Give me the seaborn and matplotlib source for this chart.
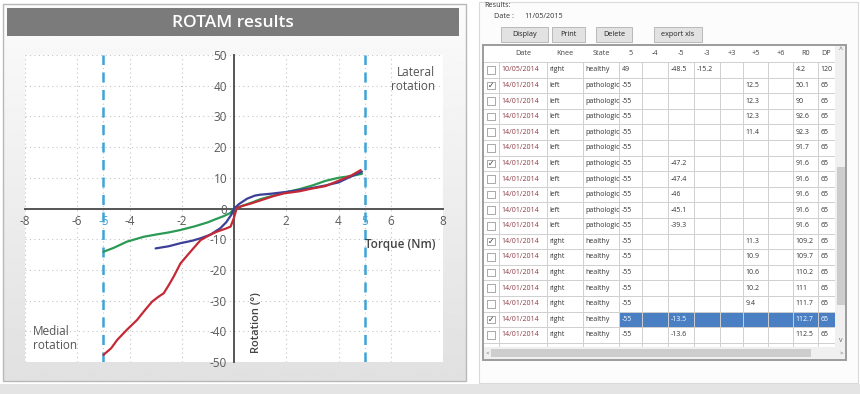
import numpy as np
import pandas as pd
import matplotlib
matplotlib.use("Agg")
import matplotlib.pyplot as plt
import seaborn as sns
from matplotlib.patches import Rectangle

# --- chart data ---
red_torque = [-5.0, -4.7, -4.47, -4.1, -3.71, -3.4, -3.13, -2.9, -2.69, -2.5, -2.31, -2.05,
              -1.67, -1.28, -0.9, -0.64, -0.3, -0.13, 0.0, 0.1, 0.3, 0.6, 1.0, 1.5, 1.9,
              2.5, 2.93, 3.5, 4.08, 4.5, 4.85]
red_rotation = [-47.7, -45.5, -42.8, -39.5, -36.3, -33.0, -30.3, -28.8, -27.6, -25.0, -22.2, -17.9,
                -14.1, -10.3, -8.5, -7.5, -6.5, -5.9, -3.0, 0.0, 0.8, 1.5, 2.6, 4.0, 4.9,
                5.6, 6.4, 7.3, 9.3, 10.8, 12.5]
green_torque = [-5.0, -4.6, -4.1, -3.45, -3.0, -2.5, -2.05, -1.5, -1.0, -0.77, -0.4, -0.15, 0.0,
                0.3, 0.7, 1.0, 1.5, 2.0, 2.5, 3.0, 3.5, 4.0, 4.5, 4.9]
green_rotation = [-14.1, -12.8, -10.8, -9.2, -8.5, -7.8, -7.0, -5.8, -4.5, -3.7, -2.5, -1.5, 0.0,
                  0.8, 2.0, 3.0, 4.2, 5.3, 6.3, 7.5, 9.0, 10.0, 10.6, 11.3]
navy_torque = [-3.0, -2.5, -2.05, -1.6, -1.28, -0.9, -0.52, -0.3, -0.1, 0.0, 0.2, 0.5, 0.8, 1.0,
               1.4, 2.0, 2.5, 3.0, 3.5, 4.0, 4.5, 4.9]
navy_rotation = [-13.0, -12.3, -11.3, -10.5, -9.7, -8.5, -6.4, -4.5, -2.0, 0.0, 1.5, 3.2, 4.2, 4.5,
                 4.8, 5.4, 6.0, 6.7, 7.5, 8.5, 10.5, 12.0]

x_ticks = [-8, -6, -5, -4, -2, 2, 4, 5, 6, 8]
y_ticks = [-50, -40, -30, -20, -10, 0, 10, 20, 30, 40, 50]
limit_torque = [-5, 5]

# --- table data ---
header_labels = ["", "Date", "Knee", "State", "5", "-4", "-5", "-3", "+3", "+5", "+6", "R0", "DP"]
table_dates = ["10/05/2014"] + ["14/01/2014"] * 17
table_knee = ["right"] + ["left"] * 10 + ["right"] * 7
table_state = ["healthy"] + ["pathologic"] * 10 + ["healthy"] * 7
col_a = ["49"] + ["-55"] * 17
col_b = [""] * 18
col_c = ["-48.5", "", "", "", "", "", "-47.2", "-47.4", "-46", "-45.1", "-39.3",
         "", "", "", "", "", "-13.5", "-13.6"]
col_d = ["-15.2"] + [""] * 17
col_e = [""] * 18
col_f = ["", "12.5", "12.3", "12.3", "11.4", "", "", "", "", "", "",
         "11.3", "10.9", "10.6", "10.2", "9.4", "", ""]
col_g = [""] * 18
col_r0 = ["4.2", "50.1", "90", "92.6", "92.3", "91.7", "91.6", "91.6", "91.6", "91.6", "91.6",
          "109.2", "109.7", "110.2", "111", "111.7", "112.7", "112.5"]
col_dp = ["120"] + ["65"] * 17
checked_rows = [1, 6, 11, 16]
selected_row = 16

sns.set_style("white")
plt.rcParams['font.family'] = ['Open Sans', 'DejaVu Sans']

W, H = 860, 394
fig = plt.figure(figsize=(W / 100, H / 100), dpi=100)

# pixel-space overlay for the panels and the table
bg = fig.add_axes([0, 0, 1, 1])
bg.set_xlim(0, W)
bg.set_ylim(H, 0)
bg.axis('off')

# left panel: gradient background, frame, title bar
grad = np.linspace(0.985, 0.88, 200).reshape(-1, 1)
bg.imshow(grad, cmap='gray', vmin=0, vmax=1, extent=(3, 466, 381, 4), aspect='auto', zorder=0)
bg.add_patch(Rectangle((3, 4), 463, 377, fill=False, ec='#b8b8b8', lw=1.0, zorder=1))
bg.add_patch(Rectangle((0, 384), W, 10, fc='#e4e4e4', ec='none', zorder=1))
bg.add_patch(Rectangle((7, 8), 452, 28, fc='#7b7b7b', ec='none', zorder=1))
bg.text(233, 22.5, "ROTAM results", color='white', fontsize=12.5, ha='center', va='center',
        fontweight='semibold', zorder=2)

# right panel
bg.add_patch(Rectangle((479, 2), 379, 381, fc='#fcfcfc', ec='#dadada', lw=0.8, zorder=1))
bg.text(484, 5, "Results:", fontsize=5.2, color='#333333', va='center', zorder=2)
bg.text(494, 16, "Date :", fontsize=5.2, color='#333333', va='center', zorder=2)
bg.text(524, 16, "11/05/2015", fontsize=5.2, color='#333333', va='center', zorder=2)
buttons = [("Display", 501, 47), ("Print", 552, 33), ("Delete", 596, 36), ("export xls", 654, 48)]
for label, bx, bw in buttons:
    bg.add_patch(Rectangle((bx, 27), bw, 15, fc='#e2e2e2', ec='#b0b0b0', lw=0.6, zorder=2))
    bg.text(bx + bw / 2, 34.5, label, fontsize=5.2, color='#222222', ha='center', va='center', zorder=3)

col_edges = [483, 499, 547, 583, 619, 642, 668, 694, 720, 743, 768, 793, 818, 835]
head_top, head_bot, row_h = 45, 62, 15.6
n_rows = len(table_dates)
columns = [table_dates, table_knee, table_state, col_a, col_b, col_c, col_d, col_e,
           col_f, col_g, col_r0, col_dp]

bg.add_patch(Rectangle((483, head_top), 363, 315, fc='white', ec='none', zorder=2))
# selected row highlight
sy = head_bot + selected_row * row_h
bg.add_patch(Rectangle((col_edges[4], sy), col_edges[-1] - col_edges[4], row_h,
                       fc='#4a7fc4', ec='none', zorder=3))
# grid
for i in range(n_rows + 2):
    y = head_bot + i * row_h
    if y < 348:
        bg.plot([483, 835], [y, y], color='#cfcfcf', lw=0.7, zorder=3)
for x in col_edges[1:-1]:
    bg.plot([x, x], [head_bot, 347], color='#cfcfcf', lw=0.7, zorder=3)
# header labels
for j, lab in enumerate(header_labels):
    cx = (col_edges[j] + col_edges[j + 1]) / 2
    bg.text(cx, (head_top + head_bot) / 2, lab, fontsize=5.2, color='#444444',
            ha='center', va='center', zorder=4)
# cells
for i in range(n_rows):
    cy = head_bot + i * row_h + row_h / 2
    bg.add_patch(Rectangle((487, cy - 3.8), 7.6, 7.6, fc='white', ec='#9a9a9a', lw=0.6, zorder=4))
    if i in checked_rows:
        bg.text(490.8, cy, "\u2713", fontsize=5.5, color='#333333', ha='center', va='center',
                family='DejaVu Sans', zorder=5)
    for j, col in enumerate(columns):
        val = col[i]
        if not val:
            continue
        color = '#333333'
        if j == 0:
            color = '#8a3b45'
        if i == selected_row and j >= 3:
            color = 'white'
        bg.text(col_edges[j + 1] + 2.5, cy, val, fontsize=5.0, color=color,
                ha='left', va='center', zorder=5)
# scroll bars
bg.add_patch(Rectangle((835, head_top), 11, 302, fc='#f0f0f0', ec='none', zorder=3))
bg.add_patch(Rectangle((836.5, 167), 8, 138, fc='#cdcdcd', ec='none', zorder=4))
bg.text(840.5, 50, "^", fontsize=5, color='#666666', ha='center', va='center', zorder=5)
bg.text(840.5, 340, "v", fontsize=5, color='#666666', ha='center', va='center', zorder=5)
bg.add_patch(Rectangle((483, 347), 363, 12, fc='#f0f0f0', ec='none', zorder=3))
bg.add_patch(Rectangle((491, 349), 320, 8, fc='#cdcdcd', ec='none', zorder=4))
bg.text(487, 353, "<", fontsize=4.5, color='#666666', ha='center', va='center', zorder=5)
bg.text(841, 353, ">", fontsize=4.5, color='#666666', ha='center', va='center', zorder=5)
bg.add_patch(Rectangle((483, head_top), 363, 315, fill=False, ec='#9c9c9c', lw=1.4, zorder=6))

# --- the ROTAM chart ---
ax = fig.add_axes([25 / W, 1 - 362 / H, 418 / W, 307 / H])
ax.set_zorder(2)
ax.set_facecolor('white')

curves = pd.concat([
    pd.DataFrame({'torque': green_torque, 'rotation': green_rotation, 'curve': 'green'}),
    pd.DataFrame({'torque': navy_torque, 'rotation': navy_rotation, 'curve': 'navy'}),
    pd.DataFrame({'torque': red_torque, 'rotation': red_rotation, 'curve': 'red'}),
], ignore_index=True)
palette = {'green': '#2c9a55', 'navy': '#3b3f98', 'red': '#c42a35'}
sns.lineplot(data=curves, x='torque', y='rotation', hue='curve', palette=palette,
             sort=False, estimator=None, legend=False, lw=1.6, ax=ax, zorder=4)

for xv in limit_torque:
    ax.axvline(xv, color='#3fa3d6', lw=1.8, ls=(0, (4, 3)), zorder=3)

ax.set_xlim(-8, 8)
ax.set_ylim(-50, 50)
ax.spines['left'].set_position('zero')
ax.spines['bottom'].set_position('zero')
ax.spines['right'].set_visible(False)
ax.spines['top'].set_visible(False)
for s in ('left', 'bottom'):
    ax.spines[s].set_color('#555555')
    ax.spines[s].set_linewidth(1.4)

ax.set_xticks(x_ticks)
ax.set_xticklabels([str(v) for v in x_ticks])
ax.set_xticks(np.arange(-8, 8.01, 0.5), minor=True)
ax.set_yticks(y_ticks)
ax.set_yticklabels([str(v) for v in y_ticks])
ax.set_yticks(np.arange(-50, 50.01, 2), minor=True)
ax.tick_params(axis='both', which='major', direction='inout', length=6, width=1.1,
               color='#555555', labelsize=8.5, labelcolor='#5a5a5a', pad=2)
ax.tick_params(axis='both', which='minor', direction='inout', length=3.5, width=0.9,
               color='#555555')
for lab in ax.get_xticklabels():
    if lab.get_text() in ('-5', '5'):
        lab.set_color('#3fa3d6')

ax.grid(True, which='major', color='#c4c4c4', lw=0.8, ls=(0, (1, 3)))
ax.set_axisbelow(True)
ax.set_xlabel('')
ax.set_ylabel('')

ax.text(7.7, 46.5, "Lateral\nrotation", fontsize=8.5, color='#555555', ha='right', va='top',
        linespacing=1.1)
ax.text(-7.7, -38.0, "Medial\nrotation", fontsize=8.5, color='#555555', ha='left', va='top',
        linespacing=1.1)
ax.text(7.7, -11.8, "Torque (Nm)", fontsize=8.5, color='#444444', ha='right', va='center',
        fontweight='semibold')
ax.text(0.85, -37, "Rotation (\u00b0)", fontsize=8, color='#444444', ha='center', va='center',
        rotation=90, fontweight='semibold')

fig.savefig("out.png", dpi=100)
